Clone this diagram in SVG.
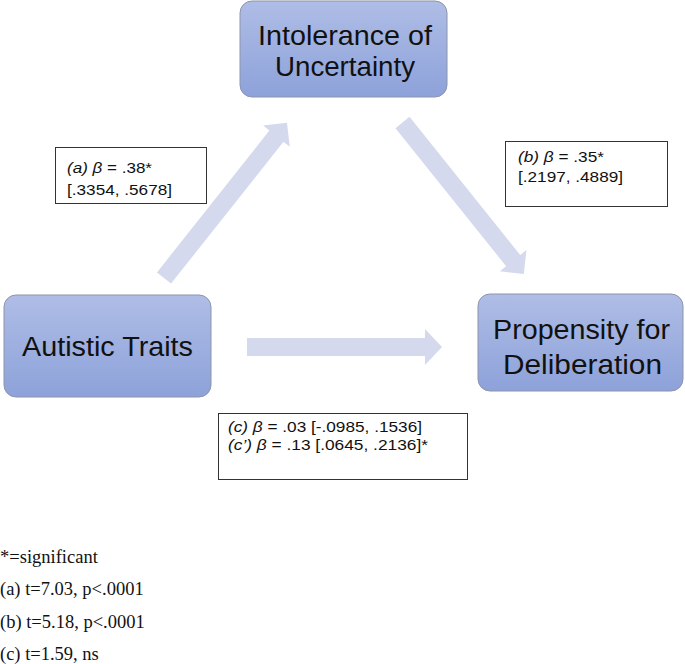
<svg xmlns="http://www.w3.org/2000/svg" width="685" height="664" viewBox="0 0 685 664">
<defs>
<linearGradient id="g" x1="0" y1="0" x2="0" y2="1">
<stop offset="0" stop-color="#afbde6"/>
<stop offset="1" stop-color="#8da2da"/>
</linearGradient>
</defs>
<style>
.node{fill:url(#g);stroke:#8d94ab;stroke-width:1}
.nt{font-family:"Liberation Sans",Arial,sans-serif;font-size:27.5px;fill:#111;text-anchor:middle}
.arr{fill:#d4d9ee}
.lbl{fill:#fff;stroke:#333;stroke-width:1}
.lt{font-family:"Liberation Sans",Arial,sans-serif;font-size:15.5px;fill:#111}
.it{font-style:italic}
.ft{font-family:"Liberation Serif","Times New Roman",serif;font-size:18.5px;fill:#111}
</style>
<rect width="685" height="664" fill="#fff"/>
<g id="connectors">
<polygon class="arr" transform="translate(164,278) rotate(-51.6)" points="0,-9 181,-9 181,-17 198,0 181,17 181,9 0,9"/>
<polygon class="arr" transform="translate(402.5,122.5) rotate(51.3)" points="0,-9 177,-9 177,-17 194,0 177,17 177,9 0,9"/>
<polygon class="arr" points="247,338 425,338 425,329 442,347 425,365 425,356 247,356"/>
</g>
<g id="node-intolerance">
<rect class="node" x="240" y="1" width="207" height="96" rx="12"/>
<text class="nt" x="345" y="45" textLength="174" lengthAdjust="spacingAndGlyphs">Intolerance of</text>
<text class="nt" x="345" y="76" textLength="140" lengthAdjust="spacingAndGlyphs">Uncertainty</text>
</g>
<g id="node-autistic">
<rect class="node" x="4" y="295" width="207" height="102" rx="12"/>
<text class="nt" x="107.5" y="356" textLength="171" lengthAdjust="spacingAndGlyphs">Autistic Traits</text>
</g>
<g id="node-propensity">
<rect class="node" x="478" y="294" width="205" height="97" rx="12"/>
<text class="nt" x="581.5" y="339" textLength="177" lengthAdjust="spacingAndGlyphs">Propensity for</text>
<text class="nt" x="582.5" y="374" textLength="159" lengthAdjust="spacingAndGlyphs">Deliberation</text>
</g>
<g id="label-a">
<rect class="lbl" x="55.5" y="147.5" width="151" height="56"/>
<text class="lt" x="67" y="173" textLength="85" lengthAdjust="spacingAndGlyphs"><tspan class="it">(a) β</tspan> = .38*</text>
<text class="lt" x="67" y="195" textLength="105" lengthAdjust="spacingAndGlyphs">[.3354, .5678]</text>
</g>
<g id="label-b">
<rect class="lbl" x="505.5" y="141.5" width="162" height="65"/>
<text class="lt" x="518" y="162" textLength="86" lengthAdjust="spacingAndGlyphs"><tspan class="it">(b) β</tspan> = .35*</text>
<text class="lt" x="518" y="182" textLength="105" lengthAdjust="spacingAndGlyphs">[.2197, .4889]</text>
</g>
<g id="label-c">
<rect class="lbl" x="218.5" y="413.5" width="249" height="66"/>
<text class="lt" x="228" y="432" textLength="194" lengthAdjust="spacingAndGlyphs"><tspan class="it">(c) β</tspan> = .03 [-.0985, .1536]</text>
<text class="lt" x="228" y="450" textLength="200" lengthAdjust="spacingAndGlyphs"><tspan class="it">(c’) β</tspan> = .13 [.0645, .2136]*</text>
</g>
<g id="notes">
<text class="ft" x="0" y="563">*=significant</text>
<text class="ft" x="0" y="595">(a) t=7.03, p&lt;.0001</text>
<text class="ft" x="0" y="628">(b) t=5.18, p&lt;.0001</text>
<text class="ft" x="0" y="660">(c) t=1.59, ns</text>
</g>
</svg>
